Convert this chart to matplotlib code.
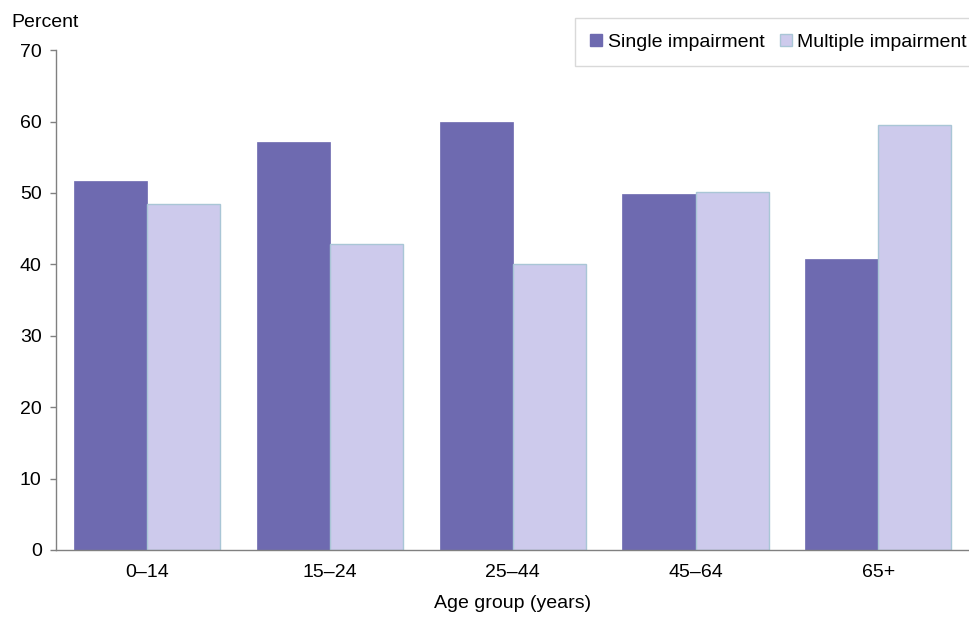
import numpy as np
import matplotlib.pyplot as plt
from matplotlib.patches import Patch

age_groups = ["0\u201314", "15\u201324", "25\u201344", "45\u201364", "65+"]
single = [51.7, 57.2, 60.0, 49.8, 40.8]
multiple = [48.4, 42.9, 40.0, 50.2, 59.5]

c_single = "#6e6ab0"
c_multi = "#cdcaec"
edge_multi = "#a9c6d6"

plt.rcParams['font.family'] = ['Liberation Sans', 'DejaVu Sans']

fig = plt.figure(figsize=(9.7, 6.2), dpi=100)
ax = fig.add_axes([0.0577, 0.113, 0.942, 0.806])

x = np.arange(len(age_groups))
w = 0.40
ax.bar(x - w / 2, single, w, color=c_single, edgecolor=c_single, linewidth=0.5)
ax.bar(x + w / 2, multiple, w, color=c_multi, edgecolor=edge_multi, linewidth=1.0)

ax.set_xlim(-0.5, len(age_groups) - 0.5)
ax.set_ylim(0, 70)
ax.set_yticks(range(0, 71, 10))
ax.set_xticks(x)
ax.set_xticklabels(age_groups)
ax.tick_params(axis='y', length=4.3, width=1, color='#808080', labelsize=14, pad=6)
ax.tick_params(axis='x', length=0, labelsize=14, pad=10)

for s in ['top', 'right']:
    ax.spines[s].set_visible(False)
for s in ['left', 'bottom']:
    ax.spines[s].set_color('#808080')
    ax.spines[s].set_linewidth(1)

ax.set_xlabel("Age group (years)", fontsize=14, labelpad=10)
fig.text(0.012, 0.963, "Percent", fontsize=14, va='center', ha='left')

handles = [Patch(facecolor=c_single, edgecolor=c_single),
           Patch(facecolor=c_multi, edgecolor=edge_multi)]
leg = fig.legend(handles, ["Single impairment", "Multiple impairment"],
                 loc='upper right', bbox_to_anchor=(1.013, 0.971), ncol=2,
                 fontsize=14, frameon=True, fancybox=False,
                 handlelength=0.6, handleheight=0.6, handletextpad=0.3,
                 columnspacing=0.8, borderpad=0.8, borderaxespad=0)
leg.get_frame().set_edgecolor('#d0d0d0')
leg.get_frame().set_linewidth(1)

fig.savefig("out.png", dpi=100)
